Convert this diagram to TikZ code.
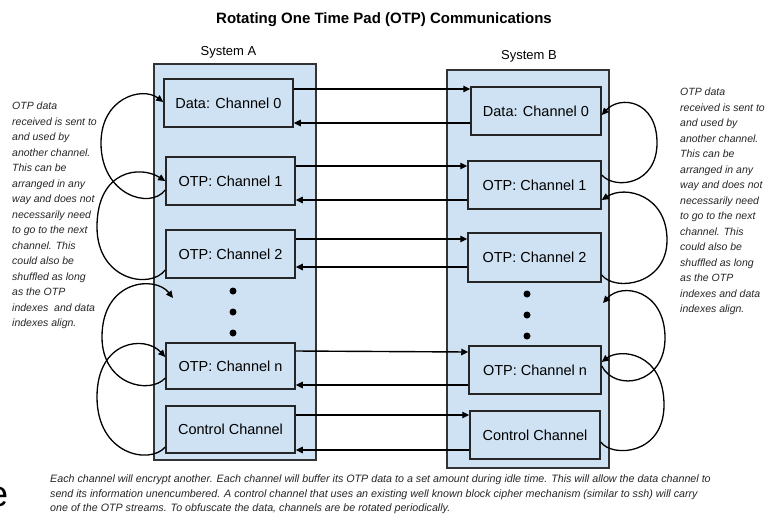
\documentclass[tikz,border=0pt]{standalone}
\usepackage{fontspec}
\setmainfont{Liberation Sans}
\usetikzlibrary{arrows.meta}
\definecolor{boxfill}{HTML}{CFE2F3}
\definecolor{boxline}{HTML}{333333}
\begin{document}
\begin{tikzpicture}[x=1pt,y=-1pt,
  sysbox/.style={draw=boxline,fill=boxfill,line width=2pt,minimum width=162pt,inner sep=0},
  chbox/.style={draw=black!85,fill=boxfill,line width=1.5pt,inner sep=0,font=\fontsize{14.5}{16}\selectfont},
  conn/.style={line width=1.4pt,-{Triangle[length=7pt,width=6.5pt]}},
  loop/.style={line width=1.3pt,-{Triangle[length=7pt,width=6.5pt]}},
  note/.style={font=\fontsize{10.5}{15.5}\selectfont\itshape,align=left,anchor=north west,inner sep=0,text=black!85},
  syslabel/.style={font=\fontsize{13}{15}\selectfont,inner sep=0},
  dotmark/.style={circle,fill=black,minimum size=7pt,inner sep=0}]
\useasboundingbox (0,0) rectangle (768,523);
\fill[white] (0,0) rectangle (768,523);

% title and labels
\node[font=\fontsize{15}{17}\selectfont\bfseries,inner sep=0] (title) at (384,20) {Rotating One Time Pad (OTP) Communications};
\node[syslabel] (labA) at (228.5,52) {System A};
\node[syslabel] (labB) at (529,56) {System B};

% system boxes
\node[sysbox,minimum height=396pt] (sysA) at (235,262) {};
\node[sysbox,minimum height=398pt] (sysB) at (528,269) {};

% channel boxes A
\node[chbox,minimum width=129pt,minimum height=48pt] (d0A) at (228.5,103) {Data: Channel 0};
\node[chbox,minimum width=129pt,minimum height=48pt] (c1A) at (230.5,181) {OTP: Channel 1};
\node[chbox,minimum width=129pt,minimum height=48pt] (c2A) at (230.5,254) {OTP: Channel 2};
\node[chbox,minimum width=129pt,minimum height=46pt] (cnA) at (230.5,366) {OTP: Channel n};
\node[chbox,minimum width=129pt,minimum height=47pt] (ctA) at (230.5,429.5) {Control Channel};

% channel boxes B
\node[chbox,minimum width=130pt,minimum height=48pt] (d0B) at (536,111) {Data: Channel 0};
\node[chbox,minimum width=133pt,minimum height=48pt] (c1B) at (534.5,185) {OTP: Channel 1};
\node[chbox,minimum width=133pt,minimum height=49pt] (c2B) at (534.5,257.5) {OTP: Channel 2};
\node[chbox,minimum width=132pt,minimum height=48pt] (cnB) at (535,370) {OTP: Channel n};
\node[chbox,minimum width=130pt,minimum height=48pt] (ctB) at (535,435) {Control Channel};

% dots
\node[dotmark] (a1) at (233,291) {};
\node[dotmark] (a2) at (233,312) {};
\node[dotmark] (a3) at (233,333) {};
\node[dotmark] (b1) at (527,294) {};
\node[dotmark] (b2) at (527,315) {};
\node[dotmark] (b3) at (527,336) {};

% horizontal connectors
\draw[conn] ([yshift=14pt]d0A.east) -- ([yshift=22pt]d0B.west);
\draw[conn] ([yshift=-12pt]d0B.west) -- ([yshift=-20pt]d0A.east);
\draw[conn] ([yshift=15pt]c1A.east) -- ([yshift=19pt]c1B.west);
\draw[conn] ([yshift=-15pt]c1B.west) -- ([yshift=-19pt]c1A.east);
\draw[conn] ([yshift=15pt]c2A.east) -- ([yshift=18.5pt]c2B.west);
\draw[conn] ([yshift=-9.5pt]c2B.west) -- ([yshift=-13pt]c2A.east);
\draw[conn] ([yshift=15pt]cnA.east) -- ([yshift=18pt]cnB.west);
\draw[conn] ([yshift=-15pt]cnB.west) -- ([yshift=-19pt]cnA.east);
\draw[conn] ([yshift=14.5pt]ctA.east) -- ([yshift=20pt]ctB.west);
\draw[conn] ([yshift=-15pt]ctB.west) -- ([yshift=-20.5pt]ctA.east);

% loop end points inside the boxes
\coordinate (tA) at (173,298);
\coordinate (tB) at (603,303);

% left loops
\draw[loop] ([yshift=-9pt]c1A.west) .. controls (150,210) and (101,195) .. (101,143)
  .. controls (101,98) and (142,86) .. ([yshift=1pt]d0A.west);
\draw[loop] ([yshift=-16pt]c2A.west) .. controls (150,290) and (97,280) .. (97,227)
  .. controls (97,170) and (140,165) .. (c1A.west);
\draw[loop] ([yshift=-12pt]cnA.west) .. controls (150,395) and (102,385) .. (102,337)
  .. controls (102,280) and (155,275) .. (tA);
\draw[loop] ([yshift=-17.5pt]ctA.west) .. controls (150,465) and (97,455) .. (97,397)
  .. controls (97,340) and (145,335) .. ([yshift=9pt]cnA.west);

% right loops
\draw[loop] ([yshift=10pt]c1B.east) .. controls (615,190) and (657,185) .. (657,143)
  .. controls (657,100) and (620,95) .. ([yshift=-4pt]d0B.east);
\draw[loop] ([yshift=-17.5pt]c2B.east) .. controls (615,292) and (667,285) .. (667,240)
  .. controls (667,195) and (625,185) .. ([yshift=-15pt]c1B.east);
\draw[loop] ([yshift=4pt]cnB.east) .. controls (615,392) and (665,385) .. (665,338)
  .. controls (665,290) and (622,282) .. (tB);
\draw[loop] ([yshift=-7pt]ctB.east) .. controls (612,458) and (664,455) .. (664,405)
  .. controls (664,352) and (620,348) .. ([yshift=8pt]cnB.east);

% notes
\node[note] (noteL) at (12,102) {OTP data\\received is sent to\\and used by\\another channel.\\This can be\\arranged in any\\way and does not\\necessarily need\\to go to the next\\channel. This\\could also be\\shuffled as long\\as the OTP\\indexes\ \ and data\\indexes align.};
\node[note] (noteR) at (680,88) {OTP data\\received is sent to\\and used by\\another channel.\\This can be\\arranged in any\\way and does not\\necessarily need\\to go to the next\\channel. This\\could also be\\shuffled as long\\as the OTP\\indexes and data\\indexes align.};
\node[note,font=\fontsize{10.7}{14.3}\selectfont\itshape] (bottom) at (50,475) {Each channel will encrypt another. Each channel will buffer its OTP data to a set amount during idle time. This will allow the data channel to\\send its information unencumbered. A control channel that uses an existing well known block cipher mechanism (similar to ssh) will carry\\one of the OTP streams. To obfuscate the data, channels are be rotated periodically.};

% stray glyph at the left edge
\node[anchor=base west,inner sep=0,font=\fontsize{36}{36}\selectfont] (eglyph) at (-12,506) {e};
\end{tikzpicture}
\end{document}
